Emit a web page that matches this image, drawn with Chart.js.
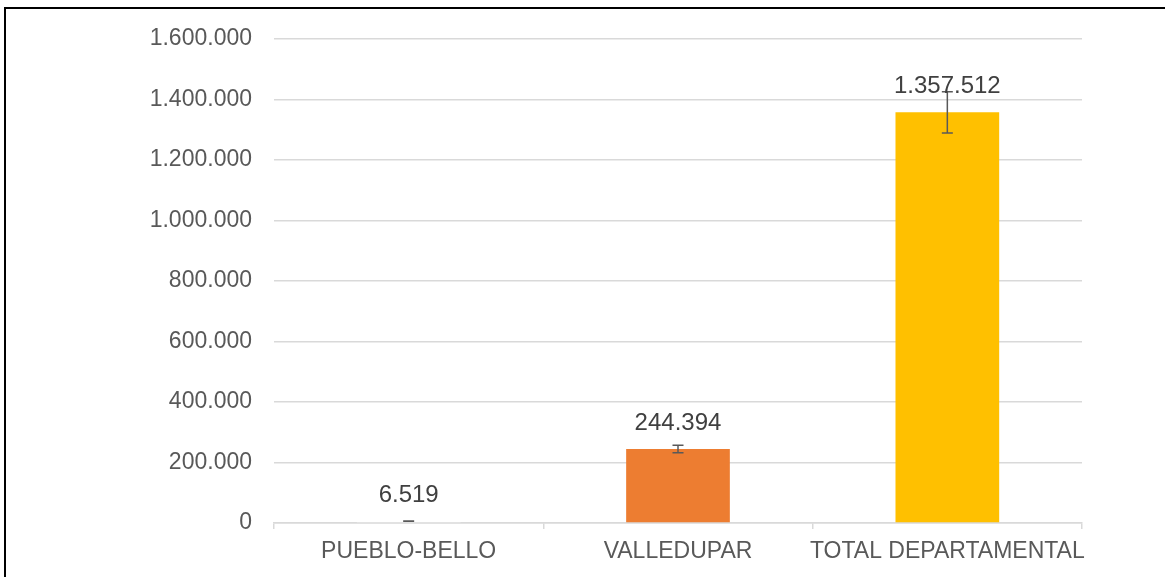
<!DOCTYPE html>
<html>
<head>
<meta charset="utf-8">
<script src="https://cdn.jsdelivr.net/npm/chart.js@4"></script>
<style>
  html, body { margin: 0; padding: 0; background: #fff; }
  #wrap { position: relative; width: 1165px; height: 577px; overflow: hidden; }
  #frame { position: absolute; left: 4px; top: 7px; width: 1200px; height: 600px;
           border-top: 2px solid #000; border-left: 2px solid #000; pointer-events: none; }
  canvas { position: absolute; left: 0; top: 0; }
</style>
</head>
<body>
<div id="wrap">
  <canvas id="c" width="1165" height="577"></canvas>
  <div id="frame"></div>
</div>
<script>
const categories = ["PUEBLO-BELLO", "VALLEDUPAR", "TOTAL DEPARTAMENTAL"];
const values = [6519, 244394, 1357512];
const errors = [326, 12220, 67876];
const barColors = ["#FFFFFF", "#ED7D31", "#FFC000"];
const yTicks = [0, 200000, 400000, 600000, 800000, 1000000, 1200000, 1400000, 1600000];

function fmt(n) {
  return String(Math.round(n)).replace(/\B(?=(\d{3})+(?!\d))/g, ".");
}

const errorBarPlugin = {
  id: 'errorBars',
  afterDatasetsDraw(chart) {
    const ctx = chart.ctx;
    const meta = chart.getDatasetMeta(0);
    const y = chart.scales.y;
    ctx.save();
    ctx.strokeStyle = '#595959';
    ctx.lineWidth = 1.5;
    meta.data.forEach((bar, i) => {
      const v = values[i], e = errors[i];
      const yTop = y.getPixelForValue(v + e);
      const yBot = y.getPixelForValue(v - e);
      const x = bar.x;
      ctx.beginPath();
      ctx.moveTo(x, yTop); ctx.lineTo(x, yBot);
      ctx.moveTo(x - 5.5, yTop); ctx.lineTo(x + 5.5, yTop);
      ctx.moveTo(x - 5.5, yBot); ctx.lineTo(x + 5.5, yBot);
      ctx.stroke();
    });
    ctx.fillStyle = '#404040';
    ctx.font = '24px "Liberation Sans", Arial, sans-serif';
    ctx.textAlign = 'center';
    ctx.textBaseline = 'middle';
    meta.data.forEach((bar, i) => {
      ctx.fillText(fmt(values[i]), bar.x, bar.y - 26);
    });
    ctx.restore();
  }
};

new Chart(document.getElementById('c'), {
  type: 'bar',
  data: {
    labels: categories,
    datasets: [{
      data: values,
      backgroundColor: barColors,
      borderWidth: 0,
      categoryPercentage: 1,
      barPercentage: 0.385
    }]
  },
  options: {
    responsive: false,
    animation: false,
    devicePixelRatio: 1,
    layout: { padding: { top: 39, right: 83, left: 0, bottom: 0 } },
    plugins: { legend: { display: false }, tooltip: { enabled: false } },
    scales: {
      x: {
        offset: true,
        grid: { display: true, drawOnChartArea: false, color: '#d9d9d9', lineWidth: 1.5, tickLength: 6, offset: true },
        border: { display: true, color: '#d9d9d9', width: 1.5 },
        ticks: { color: '#595959', font: { family: '"Liberation Sans", Arial, sans-serif', size: 23 }, padding: 9,
                 maxRotation: 0, autoSkip: false },
        afterFit(scale) { scale.height = 54; }
      },
      y: {
        min: 0, max: 1600000,
        afterBuildTicks(scale) { scale.ticks = yTicks.map(v => ({ value: v })); },
        grid: { color: '#d9d9d9', lineWidth: 1.5, drawTicks: false },
        border: { display: false },
        ticks: { color: '#595959', font: { family: '"Liberation Sans", Arial, sans-serif', size: 23 }, padding: 22,
                 callback: v => fmt(v) },
        afterFit(scale) { scale.width = 274; }
      }
    }
  },
  plugins: [errorBarPlugin]
});
</script>
</body>
</html>
